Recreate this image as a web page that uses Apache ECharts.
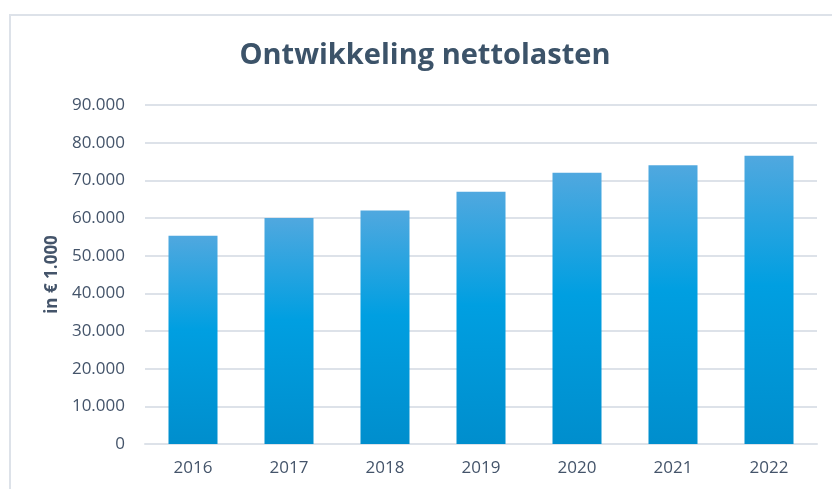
<!DOCTYPE html>
<html>
<head>
<meta charset="utf-8">
<script src="https://cdn.jsdelivr.net/npm/echarts@6/dist/echarts.min.js"></script>
<style>
  html, body { margin: 0; padding: 0; background: #fff; }
  #chart { width: 832px; height: 489px; }
</style>
</head>
<body>
<div id="chart"></div>
<script>
// data
const years = ['2016', '2017', '2018', '2019', '2020', '2021', '2022'];
const nettolasten = [55300, 60000, 62000, 67000, 72000, 74000, 76500];

const chart = echarts.init(document.getElementById('chart'));

// bar fill: light blue at top, saturated in the middle, darker at bottom
const barFill = new echarts.graphic.LinearGradient(0, 0, 0, 1, [
  { offset: 0, color: '#50A8DF' },
  { offset: 0.45, color: '#009FE1' },
  { offset: 1, color: '#008ECD' }
]);

chart.setOption({
  animation: false,
  textStyle: { fontFamily: 'Open Sans' },
  graphic: [{
    type: 'rect',
    shape: { x: 10, y: 15, width: 900, height: 600 },
    style: { fill: 'none', stroke: '#DDE2E9', lineWidth: 2 },
    silent: true
  }, {
    type: 'text',
    x: 425,
    y: 41,
    style: {
      text: 'Ontwikkeling nettolasten',
      align: 'center',
      fill: '#3C5369',
      font: 'bold 29px "Open Sans"'
    },
    silent: true
  }],
  grid: { left: 145, right: 15, top: 105, bottom: 45 },
  xAxis: {
    type: 'category',
    data: years,
    axisLine: { show: true, lineStyle: { color: '#DDE2E9', width: 2 } },
    axisTick: { show: false },
    axisLabel: { color: '#44546A', fontSize: 17, margin: 16 }
  },
  yAxis: {
    type: 'value',
    min: 0,
    max: 90000,
    interval: 10000,
    name: 'in € 1.000',
    nameLocation: 'middle',
    nameGap: 84,
    nameTextStyle: { color: '#44546A', fontSize: 17, fontWeight: 'bold' },
    axisLine: { show: false },
    axisTick: { show: false },
    splitLine: { lineStyle: { color: '#DDE2E9', width: 2 } },
    axisLabel: {
      color: '#44546A',
      fontSize: 17,
      margin: 20,
      formatter: v => v === 0 ? '0' : (v / 1000) + '.000'
    }
  },
  series: [{
    type: 'bar',
    data: nettolasten,
    barWidth: 49,
    itemStyle: { color: barFill }
  }]
});
</script>
</body>
</html>
